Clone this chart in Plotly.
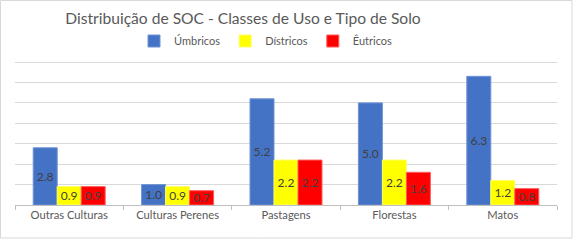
import plotly.graph_objects as go

categories = ["Outras Culturas", "Culturas Perenes", "Pastagens", "Florestas", "Matos"]
umbricos = [2.8, 1.0, 5.2, 5.0, 6.3]
districos = [0.9, 0.9, 2.2, 2.2, 1.2]
eutricos = [0.9, 0.7, 2.2, 1.6, 0.8]
series_names = ["Úmbricos", "Dístricos", "Êutricos"]
colors = ["#4472C4", "#FFFF00", "#FF0000"]
edge_colors = ["#6f93d6", "#ffff66", "#ff5a5a"]

FONT = "Lato"
fig = go.Figure()
for name, vals, c, ec in zip(series_names, [umbricos, districos, eutricos], colors, edge_colors):
    fig.add_trace(go.Bar(
        x=categories, y=vals, name=name,
        marker=dict(color=c, line=dict(color=ec, width=1)),
        texttemplate="%{y:.1f}", textposition="inside", insidetextanchor="middle",
        textangle=0,
        insidetextfont=dict(color="#404040", size=12, family=FONT),
    ))

W, H = 573, 240
L, R, T, B = 15, 16, 60, 35
pw, ph = W - L - R, H - T - B

def px_x(px):
    return (px - L) / pw

def px_y(py):
    return (H - B - py) / ph

fig.update_layout(
    width=W, height=H,
    margin=dict(l=L, r=R, t=T, b=B, autoexpand=False),
    paper_bgcolor="white", plot_bgcolor="white",
    barmode="group", bargap=0.336, bargroupgap=0,
    uniformtext=dict(minsize=12, mode="show"),
    font=dict(family=FONT, color="#595959"),
    title=dict(text="Distribuição de SOC - Classes de Uso e Tipo de Solo",
               x=243 / W, xref="container", xanchor="center",
               y=1 - 19 / H, yref="container", yanchor="middle",
               font=dict(size=15.6, color="#595959", family=FONT)),
    legend=dict(orientation="h", x=266 / W, xref="container", xanchor="center",
                y=1 - 41 / H, yref="container", yanchor="middle",
                font=dict(size=11, color="#595959", family=FONT),
                itemwidth=30, traceorder="normal", bgcolor="rgba(0,0,0,0)"),
    xaxis=dict(type="category", showline=True, linecolor="#bfbfbf", linewidth=1,
               ticks="outside", tickson="boundaries", ticklen=4, tickcolor="#bfbfbf",
               tickfont=dict(size=11.2, color="#595959", family=FONT),
               showgrid=False, fixedrange=True, automargin=False),
    yaxis=dict(range=[0, 7.1], dtick=1, showticklabels=False, showgrid=True,
               gridcolor="#d9d9d9", gridwidth=1, zeroline=False, showline=False,
               fixedrange=True, automargin=False),
    shapes=[dict(type="rect", xref="paper", yref="paper",
                 x0=px_x(0.5), x1=px_x(572), y0=px_y(238), y1=px_y(0.5),
                 line=dict(color="#d9d9d9", width=1), layer="below")],
)

fig.write_html("out.html", config={"displayModeBar": False},
               post_script="document.body.style.margin='0';")
